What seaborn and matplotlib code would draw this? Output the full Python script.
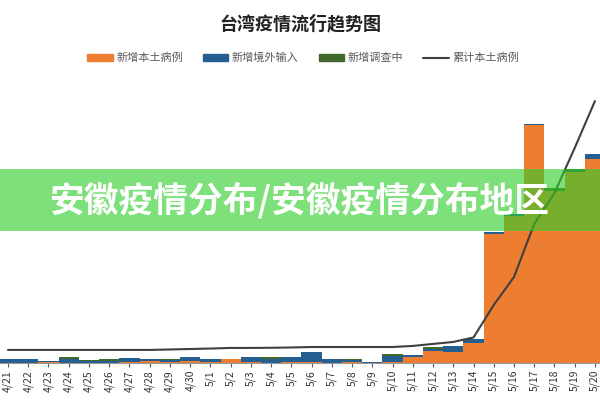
import numpy as np
import pandas as pd
import matplotlib
matplotlib.use("Agg")
import matplotlib.pyplot as plt
import matplotlib.patches as mpatches
import matplotlib.lines as mlines
import seaborn as sns

sns.set_style("white")
plt.rcParams['font.family'] = ['Noto Sans CJK SC', 'DejaVu Sans']

dates = ['4/21', '4/22', '4/23', '4/24', '4/25', '4/26', '4/27', '4/28', '4/29', '4/30',
         '5/1', '5/2', '5/3', '5/4', '5/5', '5/6', '5/7', '5/8', '5/9', '5/10',
         '5/11', '5/12', '5/13', '5/14', '5/15', '5/16', '5/17', '5/18', '5/19', '5/20']
local_new = [0, 0, 1, 0, 0, 0, 1, 3, 2, 3,
             1, 5, 1, 0, 1, 2, 0, 1, 0, 2,
             8, 17, 15, 28, 180, 206, 333, 240, 267, 285]
imported_new = [6, 6, 2, 6, 3, 3, 6, 2, 2, 5,
                4, 1, 8, 6, 7, 13, 5, 3, 2, 8,
                3, 3, 9, 5, 4, 2, 2, 1, 2, 8]
investigating_new = [0, 0, 0, 3, 1, 3, 0, 0, 1, 0,
                     0, 0, 0, 3, 0, 0, 0, 2, 0, 3,
                     0, 2, 0, 0, 0, 0, 0, 4, 3, 0]
cumulative_local = [85, 85, 85, 85, 85, 85, 85, 85, 88, 91,
                    94, 98, 98, 99, 101, 104, 104, 104, 104, 104,
                    111, 124, 137, 166, 377, 559, 904, 1105, 1398, 1703]

labels = ['新增本土病例', '新增境外输入', '新增调查中', '累计本土病例']
title = '台湾疫情流行趋势图'
banner = '安徽疫情分布/安徽疫情分布地区'

c_orange = '#ED7D31'
c_blue = '#255E91'
c_green = '#43682B'
c_line = '#404040'

df = pd.DataFrame({'date': dates, 'local': local_new, 'imp': imported_new,
                   'inv': investigating_new, 'cum': cumulative_local})
df['s1'] = df['local']
df['s2'] = df['local'] + df['imp']
df['s3'] = df['s2'] + df['inv']
df['pos'] = np.arange(len(df))

fig = plt.figure(figsize=(6, 4), dpi=100)
ax = fig.add_axes([0, 0.0925, 1, 0.7075])

for col, c in [('s3', c_green), ('s2', c_blue), ('s1', c_orange)]:
    sns.barplot(data=df, x='date', y=col, color=c, width=1.0, saturation=1,
                linewidth=0, ax=ax, errorbar=None)

ax.set_xlim(-0.395, 29.25)
ax.set_ylim(0, 396)
ax.set_xlabel('')
ax.set_ylabel('')
ax.set_yticks([])
for s in ['top', 'left', 'right']:
    ax.spines[s].set_visible(False)
ax.spines['bottom'].set_color('#999999')
ax.spines['bottom'].set_linewidth(0.8)
ax.tick_params(axis='x', bottom=True, length=3, width=0.8, color='#555555',
               labelsize=7.5, labelcolor='#333333', rotation=90, pad=2)

ax2 = ax.twinx()
sns.lineplot(data=df, x='pos', y='cum', color=c_line, linewidth=1.5, ax=ax2)
ax2.set_ylim(0, 1840)
ax2.set_xlim(-0.395, 29.25)
ax2.set_yticks([])
ax2.set_ylabel('')
ax2.set_xlabel('')
for s in ax2.spines.values():
    s.set_visible(False)

fig.text(0.5, 1 - 24 / 400, title, ha='center', va='center', fontsize=13,
         fontweight='bold', color='#222222')

handles = [mpatches.Patch(color=c_orange), mpatches.Patch(color=c_blue),
           mpatches.Patch(color=c_green), mlines.Line2D([], [], color=c_line, lw=1.5)]
fig.legend(handles, labels, loc='center', bbox_to_anchor=(0.505, 1 - 58 / 400),
           ncol=4, frameon=False, fontsize=8, handlelength=2.3, handleheight=0.55,
           handletextpad=0.3, columnspacing=1.8, labelcolor='#595959')

rect = mpatches.Rectangle((0, (400 - 231) / 400), 1, 62 / 400, transform=fig.transFigure,
                          facecolor=(47 / 255, 205 / 255, 40 / 255), alpha=0.62,
                          edgecolor='none', zorder=10)
fig.add_artist(rect)
fig.text(0.5, (400 - 200) / 400, banner, ha='center', va='center', fontsize=25,
         fontweight='black', color='white', zorder=11)

fig.savefig('out.png', dpi=100)
